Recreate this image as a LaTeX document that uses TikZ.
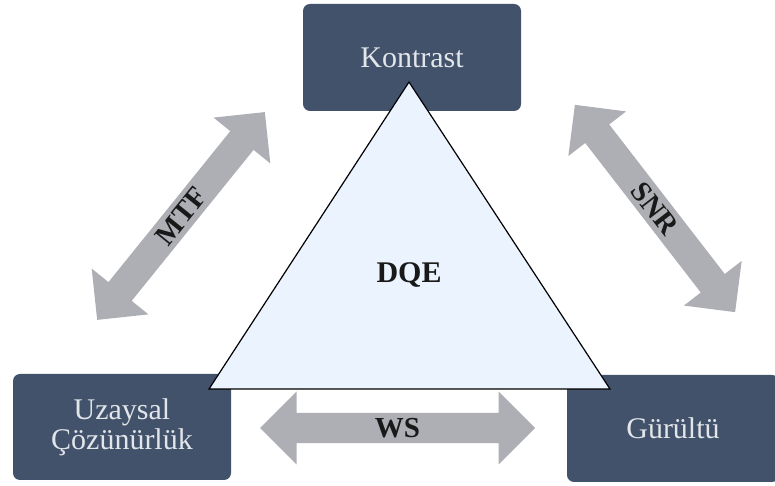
\documentclass[tikz,border=0pt]{standalone}
\usepackage{fontspec}
\setmainfont{Liberation Serif}
\usetikzlibrary{shapes.arrows}
\definecolor{boxblue}{HTML}{42526B}
\definecolor{boxtext}{HTML}{E2E5EA}
\definecolor{arrowgray}{HTML}{ADAFB5}
\definecolor{trifill}{HTML}{EBF4FE}
\tikzset{
  corner/.style={rectangle, rounded corners=7pt, fill=boxblue, text=boxtext,
    align=center, inner sep=0pt,
    font=\fontsize{30}{30}\selectfont},
  link/.style={double arrow, double arrow head extend=14pt,
    double arrow tip angle=90, fill=arrowgray, inner sep=0pt,
    minimum width=73pt, text=black!90,
    font=\fontsize{29}{29}\selectfont\bfseries},
}
\begin{document}
\begin{tikzpicture}[x=1pt,y=1pt]
  \clip (0,0) rectangle (775,486);
  \useasboundingbox (0,0) rectangle (775,486);

  % corner boxes
  \node[corner, minimum width=218pt, minimum height=107pt] (kontrast) at (412,428.5) {Kontrast};
  \node[corner, minimum width=218pt, minimum height=106pt] (uzaysal) at (122,59) {Uzaysal\\Çözünürlük};
  \node[corner, minimum width=212pt, minimum height=107pt] (gurultu) at (673,57.5) {Gürültü};

  % two-headed block arrows between the corners
  \node[link, minimum height=267pt, rotate=51.1] (mtf) at (181,270) {MTF};
  \node[link, minimum height=262pt, rotate=-52.3] (snr) at (655,277.5) {SNR};
  \node[link, minimum height=275pt] (ws) at (397.5,58) {WS};

  % central triangle
  \coordinate (top) at (409,404);
  \coordinate (left) at (209,97);
  \coordinate (right) at (610,97);
  \draw[fill=trifill, line width=1.2pt, line join=miter] (top) -- (left) -- (right) -- cycle;
  \node[font=\fontsize{30}{30}\selectfont\bfseries, text=black!90] (dqe) at (409,211) {DQE};
\end{tikzpicture}
\end{document}
